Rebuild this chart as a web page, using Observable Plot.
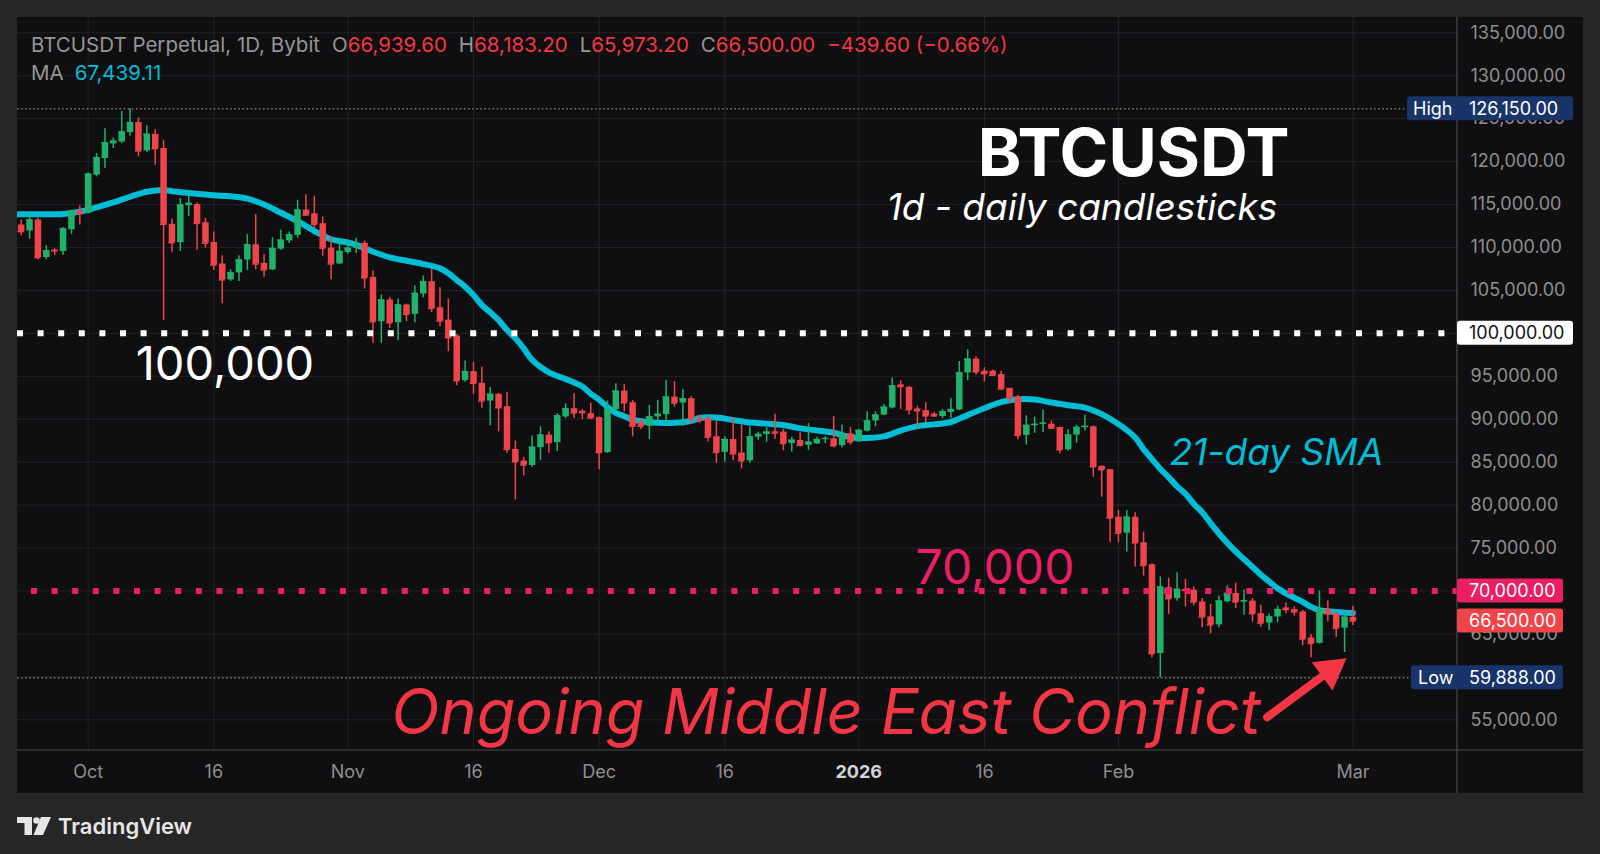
<!DOCTYPE html>
<html>
<head>
<meta charset="utf-8">
<script src="https://cdn.jsdelivr.net/npm/d3@7"></script>
<script src="https://cdn.jsdelivr.net/npm/@observablehq/plot@0.6"></script>
<style>
  html, body { margin: 0; padding: 0; background: #262626; width: 1600px; height: 854px; overflow: hidden; }
  #panel { position: absolute; left: 17px; top: 17px; width: 1566px; height: 776px; background: #0f0f11; }
  #chart { position: absolute; left: 0; top: 0; }
  #hdr { position: absolute; left: 14px; top: 14px; font-family: Inter, "Noto Sans", sans-serif; font-size: 20.5px; line-height: 28px; color: #959595; white-space: nowrap; }
  #hdr .k { margin-left: 12px; }
  #hdr .r { color: #f23645; }
  #hdr .c { color: #00bcd4; margin-left: 11px; }
  #logo { position: absolute; left: 17px; top: 813px; height: 26px; display: flex; align-items: center; }
  #logo span { font-family: Inter, "Noto Sans", sans-serif; font-weight: 600; font-size: 22px; color: #e6e6e6; margin-left: 7px; }
</style>
</head>
<body>
<div id="panel">
  <div id="chart"></div>
  <div id="hdr">
    <div>BTCUSDT Perpetual, 1D, Bybit<span class="k">O</span><span class="r">66,939.60</span><span class="k">H</span><span class="r">68,183.20</span><span class="k">L</span><span class="r">65,973.20</span><span class="k">C</span><span class="r">66,500.00</span><span class="k r">−439.60 (−0.66%)</span></div>
    <div>MA<span class="c">67,439.11</span></div>
  </div>
</div>
<div id="logo">
  <svg width="34" height="18" viewBox="0 0 34 18">
    <path d="M0 0H15V18H7.5V6H0Z" fill="#e6e6e6"/>
    <circle cx="19.5" cy="3.5" r="3.3" fill="#e6e6e6"/>
    <path d="M24 0H34L26 18H16.5Z" fill="#e6e6e6"/>
  </svg>
  <span>TradingView</span>
</div>
<script>
// ---------- data ----------
const dates = [
  "2025-09-23","2025-09-24","2025-09-25","2025-09-26","2025-09-27","2025-09-28","2025-09-29","2025-09-30",
  "2025-10-01","2025-10-02","2025-10-03","2025-10-04","2025-10-05","2025-10-06","2025-10-07","2025-10-08","2025-10-09","2025-10-10","2025-10-11","2025-10-12","2025-10-13","2025-10-14","2025-10-15","2025-10-16","2025-10-17","2025-10-18","2025-10-19","2025-10-20","2025-10-21","2025-10-22","2025-10-23","2025-10-24","2025-10-25","2025-10-26","2025-10-27","2025-10-28","2025-10-29","2025-10-30","2025-10-31",
  "2025-11-01","2025-11-02","2025-11-03","2025-11-04","2025-11-05","2025-11-06","2025-11-07","2025-11-08","2025-11-09","2025-11-10","2025-11-11","2025-11-12","2025-11-13","2025-11-14","2025-11-15","2025-11-16","2025-11-17","2025-11-18","2025-11-19","2025-11-20","2025-11-21","2025-11-22","2025-11-23","2025-11-24","2025-11-25","2025-11-26","2025-11-27","2025-11-28","2025-11-29","2025-11-30",
  "2025-12-01","2025-12-02","2025-12-03","2025-12-04","2025-12-05","2025-12-06","2025-12-07","2025-12-08","2025-12-09","2025-12-10","2025-12-11","2025-12-12","2025-12-13","2025-12-14","2025-12-15","2025-12-16","2025-12-17","2025-12-18","2025-12-19","2025-12-20","2025-12-21","2025-12-22","2025-12-23","2025-12-24","2025-12-25","2025-12-26","2025-12-27","2025-12-28","2025-12-29","2025-12-30","2025-12-31",
  "2026-01-01","2026-01-02","2026-01-03","2026-01-04","2026-01-05","2026-01-06","2026-01-07","2026-01-08","2026-01-09","2026-01-10","2026-01-11","2026-01-12","2026-01-13","2026-01-14","2026-01-15","2026-01-16","2026-01-17","2026-01-18","2026-01-19","2026-01-20","2026-01-21","2026-01-22","2026-01-23","2026-01-24","2026-01-25","2026-01-26","2026-01-27","2026-01-28","2026-01-29","2026-01-30","2026-01-31",
  "2026-02-01","2026-02-02","2026-02-03","2026-02-04","2026-02-05","2026-02-06","2026-02-07","2026-02-08","2026-02-09","2026-02-10","2026-02-11","2026-02-12","2026-02-13","2026-02-14","2026-02-15","2026-02-16","2026-02-17","2026-02-18","2026-02-19","2026-02-20","2026-02-21","2026-02-22","2026-02-23","2026-02-24","2026-02-25","2026-02-26","2026-02-27","2026-02-28",
  "2026-03-01"
];
const opens = [
  112620,111930,113200,108830,109720,109530,112080,114290,
  113980,118420,120360,122060,122290,123380,124540,121250,123180,121520,112700,110570,114870,115000,112890,110580,108080,106230,107040,108540,110310,108150,107390,109810,110770,111420,114350,113920,112770,109920,108080,
  109420,109920,110480,106520,101360,103880,101240,103300,102210,104580,106020,102990,101550,99690,94490,95540,94180,92120,92900,91460,86490,85130,84620,86690,88150,87270,90270,91230,90920,90650,
  90190,86120,91120,93270,91920,89580,89190,90270,90540,92580,91890,92390,90080,90080,87950,86140,87640,86060,85160,87910,88230,88540,88500,87170,87520,86970,87130,87640,87720,86930,88310,
  87360,88620,89800,90480,91320,94000,93720,91200,91000,90600,90320,90800,91080,95400,97000,95600,95600,95200,93600,92600,88120,89280,89430,89430,89040,86450,88150,89040,89120,84510,84130,
  78590,76730,78590,75610,73060,62720,70390,69110,70190,70080,68720,66980,66060,68740,69720,68740,68820,67360,66260,66970,68030,67840,67560,64530,63900,67840,67360,65670,
  66940
];
const highs = [
  113200,113780,113400,110220,109840,112310,114360,114830,
  118660,120940,123840,122760,125850,126150,125080,124150,123720,122490,113320,115720,115910,115190,113390,111810,109040,107390,109040,111540,113850,109150,111150,112000,111810,115500,116150,115960,113540,111270,111080,
  110690,111080,110750,107260,104460,104190,104000,103420,105510,106680,107490,105320,104000,99880,96780,96620,96040,93710,93010,93130,87460,85560,88040,89120,88540,90650,91810,92960,91120,91890,
  90270,92120,94120,94040,92190,90080,91620,92190,94500,94390,93420,92650,90470,90280,89800,87950,90200,89330,89130,88500,89020,90590,88820,87910,88430,89490,87910,87950,90310,89330,89020,
  88820,90870,90880,91720,94800,94480,93800,91520,91920,90800,91120,92400,96720,98080,97280,96000,95720,95600,93600,92800,90400,90240,91090,89810,89100,88770,89310,90470,89230,84590,84130,
  79370,79370,79100,76850,73170,71630,71510,72130,71360,70460,69130,68430,69410,70590,70910,70120,69130,68350,67280,68230,68620,68150,67760,64920,70000,68820,67560,67560,
  68183
];
const lows = [
  111380,110960,108560,108560,109060,109060,111540,112620,
  113900,118230,119200,121520,122100,122990,120550,121060,119590,101500,109450,109530,113590,109690,109920,107310,103460,106040,106040,107310,107390,106540,107310,109690,110460,111080,113650,112120,108960,106230,108000,
  109230,109310,105160,98840,98840,100580,99150,101360,101240,104150,102410,100780,97870,93910,94300,92900,91270,89250,88550,86030,80600,83420,84400,85190,86040,86230,90080,90080,89960,89960,
  84120,86000,90960,90850,87960,88810,87650,89580,89500,91420,89190,89420,89490,87360,84880,85000,85160,84210,84880,87560,87320,87640,86340,86180,86770,86380,87050,87170,86650,86650,86970,
  87320,88500,89120,90400,91200,91120,90480,89120,89520,90200,90080,90120,91000,94480,95120,94320,95000,93400,91800,87600,87000,88350,88460,88900,85940,86300,87220,88650,83240,80910,75610,
  75610,74530,72790,71740,62220,59888,67250,68800,68140,68260,65710,65000,65710,68660,67950,67170,66380,65790,65390,66300,67360,67090,63620,62240,63820,66380,64610,62840,
  65973
];
const closes = [
  111850,113200,108830,109610,109610,112160,114250,113980,
  118540,120470,122180,122370,123450,124540,121250,123180,121520,112700,110570,114940,115140,112810,110500,107960,106230,107040,108540,110310,108080,107390,109890,110850,111460,114350,113770,112690,109920,108080,109540,
  109920,110190,106480,101360,103880,101240,103300,102210,104660,106020,102910,101440,99500,94490,95540,94180,92120,92900,91340,86490,85050,84670,86730,88150,87270,90390,91230,90730,90770,90150,
  86120,91120,93270,91920,89190,89190,90270,90580,92580,91890,92390,90080,89920,87910,86140,87640,85980,85160,87950,88230,88500,88390,87170,87560,86970,87320,87640,87760,86930,88310,87360,
  88700,89800,90480,91400,93880,93800,91120,91000,90400,90400,90880,91120,95400,97000,95520,95320,95120,93520,92480,88120,89280,89400,89540,88960,86450,88150,89040,89160,84470,84130,78510,
  76730,78590,75610,72980,62720,70460,69110,70190,70080,68720,66980,66060,68820,69720,68740,68860,67360,66260,66970,67840,67840,67560,64410,63900,67840,67360,65670,66940,
  66500
];
// 21-day SMA
const maDates = [
  "2025-09-22","2025-09-23","2025-09-26","2025-09-28","2025-09-30","2025-10-02","2025-10-04","2025-10-06","2025-10-08","2025-10-10","2025-10-11","2025-10-13","2025-10-16","2025-10-18","2025-10-20","2025-10-22","2025-10-24","2025-10-26","2025-10-28","2025-10-30",
  "2025-11-01","2025-11-02","2025-11-04","2025-11-06","2025-11-08","2025-11-10","2025-11-12","2025-11-13","2025-11-14","2025-11-15","2025-11-16","2025-11-17","2025-11-18","2025-11-19","2025-11-20","2025-11-21","2025-11-22","2025-11-23","2025-11-25","2025-11-27","2025-11-29","2025-11-30",
  "2025-12-01","2025-12-02","2025-12-03","2025-12-04","2025-12-05","2025-12-06","2025-12-08","2025-12-10","2025-12-12","2025-12-13","2025-12-15","2025-12-17","2025-12-19","2025-12-21","2025-12-23","2025-12-25","2025-12-27","2025-12-29","2025-12-31",
  "2026-01-02","2026-01-04","2026-01-06","2026-01-08","2026-01-10","2026-01-12","2026-01-14","2026-01-16","2026-01-18","2026-01-20","2026-01-22","2026-01-24","2026-01-26","2026-01-28","2026-01-30",
  "2026-02-01","2026-02-03","2026-02-04","2026-02-05","2026-02-06","2026-02-07","2026-02-08","2026-02-09","2026-02-10","2026-02-11","2026-02-12","2026-02-13","2026-02-14","2026-02-15","2026-02-16","2026-02-17","2026-02-18","2026-02-19","2026-02-20","2026-02-21","2026-02-22","2026-02-23","2026-02-24","2026-02-25","2026-02-26","2026-02-27","2026-02-28",
  "2026-03-01"
];
const maValues = [
  113850,113860,113860,113900,114170,114670,115250,115910,116490,116700,116550,116350,116080,115960,115690,115000,114040,113080,111920,110960,
  110580,110300,109510,108850,108460,108070,107570,106990,106210,105430,104460,103300,102450,101550,100390,99420,98250,96900,95460,94690,93810,92960,
  92270,91420,90730,90350,89960,89770,89580,89580,89810,90150,90200,89920,89610,89490,89330,88940,88700,88430,87910,
  87820,88000,88680,89200,89400,89680,90480,91280,92000,92320,92300,91940,91630,91360,90590,
  89430,87880,86520,85360,84200,83240,82190,81300,80140,79170,77900,76700,75600,74600,73700,72800,71900,71100,70310,69720,69210,68740,68150,67760,67640,67560,67480,
  67440
];
const priceTicks = [55000,60000,65000,70000,75000,80000,85000,90000,95000,100000,105000,110000,115000,120000,125000,130000,135000];
const timeTicks = ["2025-10-01","2025-10-16","2025-11-01","2025-11-16","2025-12-01","2025-12-16","2026-01-01","2026-01-16","2026-02-01","2026-03-01"];
const timeLabels = ["Oct","16","Nov","16","Dec","16","2026","16","Feb","Mar"];
const levels = [100000, 70000];
const athHigh = 126150, rangeLow = 59888, lastClose = 66500;

// ---------- build ----------
if (![opens, highs, lows, closes].every(a => a.length === dates.length)) throw new Error("length mismatch");
if (maDates.length !== maValues.length) throw new Error("ma length mismatch");

const parse = d3.utcParse("%Y-%m-%d");
const UP = "#20b26c", DOWN = "#ef454a";
const candles = dates.map((d, i) => ({date: parse(d), open: opens[i], high: highs[i], low: lows[i], close: closes[i]}));
const ma = maDates.map((d, i) => ({date: parse(d), value: maValues[i]}));
const ticks = timeTicks.map((d, i) => ({date: parse(d), label: timeLabels[i], bold: timeLabels[i] === "2026"}));
const col = d => d.close >= d.open ? UP : DOWN;
const fmt = d3.format(",.2f");
const DAY = 864e5;
const oct1 = Date.UTC(2025, 9, 1);
const xStart = new Date(oct1 - 8.44 * DAY), xEnd = new Date(oct1 + 163.48 * DAY);
const at = s => new Date(s);

const chart = Plot.plot({
  width: 1566, height: 776,
  marginLeft: 0, marginTop: 0, marginRight: 126, marginBottom: 43,
  style: {background: "transparent", color: "#8f8f8f", fontFamily: "Inter, 'Noto Sans', sans-serif", overflow: "visible"},
  x: {type: "utc", domain: [xStart, xEnd], axis: null},
  y: {domain: [51425, 136782], axis: null},
  marks: [
    Plot.ruleY(priceTicks, {stroke: "#222226", strokeWidth: 1}),
    Plot.ruleX(ticks, {x: "date", stroke: "#222226", strokeWidth: 1}),
    // thin dotted high / low markers
    Plot.ruleY([athHigh, rangeLow], {stroke: "#8a8a8a", strokeWidth: 1.2, strokeDasharray: "1.5,2.6"}),
    // moving average
    Plot.line(ma, {x: "date", y: "value", stroke: "#00bcd4", strokeWidth: 6, curve: "catmull-rom", clip: true}),
    // candles
    Plot.ruleX(candles, {x: "date", y1: "low", y2: "high", stroke: col, strokeWidth: 1.5}),
    Plot.ruleX(candles, {x: "date", y1: "open", y2: "close", stroke: col, strokeWidth: 6.5}),
    Plot.ruleY(candles, {y: "close", x1: d => d3.utcHour.offset(d.date, -9), x2: d => d3.utcHour.offset(d.date, 9), stroke: col, strokeWidth: 1.5}),
    // level lines
    Plot.ruleY([levels[0]], {stroke: "#ffffff", strokeWidth: 6, strokeDasharray: "6,14.6"}),
    Plot.ruleY([levels[1]], {stroke: "#e91e63", strokeWidth: 6, strokeDasharray: "6,14.6", strokeDashoffset: 6.6}),
    // axes (as text)
    Plot.text(priceTicks, {y: d => d, text: d => fmt(d), frameAnchor: "right", dx: 13, textAnchor: "start", lineAnchor: "middle", fill: "#8f8f8f", fontSize: 18}),
    Plot.text(ticks.filter(d => !d.bold), {x: "date", text: "label", frameAnchor: "bottom", dy: 22, lineAnchor: "middle", fill: "#8f8f8f", fontSize: 18}),
    Plot.text(ticks.filter(d => d.bold), {x: "date", text: "label", frameAnchor: "bottom", dy: 22, lineAnchor: "middle", fill: "#d4d4d4", fontSize: 18, fontWeight: "bold"}),
    // annotations
    Plot.text(["BTCUSDT"], {x: at("2026-02-02T19:26Z"), y: 120800, text: d => d, fill: "#ffffff", fontSize: 66, fontWeight: "bold", lineAnchor: "middle"}),
    Plot.text(["1d - daily candlesticks"], {x: at("2026-01-27T15:36Z"), y: 114600, text: d => d, fill: "#ffffff", fontSize: 37, fontStyle: "italic", lineAnchor: "middle"}),
    Plot.text(["100,000"], {x: at("2025-10-17T08:00Z"), y: 96330, text: d => d, fill: "#ffffff", fontSize: 47, lineAnchor: "middle"}),
    Plot.text(["70,000"], {x: at("2026-01-17T06:14Z"), y: 72620, text: d => d, fill: "#e91e63", fontSize: 48, lineAnchor: "middle"}),
    Plot.text(["21-day SMA"], {x: at("2026-02-19T20:53Z"), y: 86100, text: d => d, fill: "#00bcd4", fontSize: 37, fontStyle: "italic", lineAnchor: "middle"}),
    Plot.text(["Ongoing Middle East Conflict"], {x: at("2025-12-28T02:00Z"), y: 55640, text: d => d, fill: "#f23645", fontSize: 63, fontStyle: "italic", lineAnchor: "middle"}),
    // red arrow: shaft + filled head
    Plot.link([{x1: at("2026-02-18T18:00Z"), y1: 55300, x2: at("2026-02-26T20:00Z"), y2: 61150}], {x1: "x1", y1: "y1", x2: "x2", y2: "y2", stroke: "#f23645", strokeWidth: 8, strokeLinecap: "round"}),
    Plot.dot([{x: at("2026-02-26T07:00Z"), y: 60754}], {x: "x", y: "y", symbol: "triangle", r: 13, rotate: 53.5, fill: "#f23645", stroke: "none"})
  ]
});
document.getElementById("chart").appendChild(chart);

// dividers and price tags placed through the y scale
const svg = d3.select(chart);
const ys = chart.scale("y");
svg.append("line").attr("x1", 1440).attr("x2", 1440).attr("y1", 0).attr("y2", 776).attr("stroke", "#4a4a4a").attr("stroke-width", 1.2);
svg.append("line").attr("x1", 0).attr("x2", 1566).attr("y1", 733).attr("y2", 733).attr("stroke", "#4a4a4a").attr("stroke-width", 1.2);

function tag(value, fill, color, left, width, prefix, prefixX) {
  const y = ys.apply(value);
  const g = svg.append("g").attr("font-family", "Inter, 'Noto Sans', sans-serif").attr("font-size", 18).attr("text-anchor", "start");
  g.append("rect").attr("x", left).attr("y", y - 12).attr("width", width).attr("height", 24).attr("rx", 3).attr("fill", fill);
  g.append("text").attr("x", 1452).attr("y", y).attr("dy", "0.35em").attr("fill", color).attr("text-anchor", "start").text(fmt(value));
  if (prefix) g.append("text").attr("x", prefixX).attr("y", y).attr("dy", "0.35em").attr("fill", color).attr("text-anchor", "start").text(prefix);
}
tag(athHigh, "#183468", "#ffffff", 1390, 166, "High", 1396);
tag(levels[0], "#ffffff", "#131313", 1440, 116);
tag(levels[1], "#e91e63", "#ffffff", 1440, 106);
tag(lastClose, "#ef454a", "#ffffff", 1440, 106);
tag(rangeLow, "#183468", "#ffffff", 1394, 152, "Low", 1401);
</script>
</body>
</html>
